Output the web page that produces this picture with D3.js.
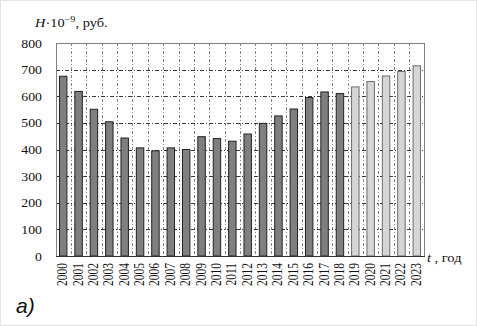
<!DOCTYPE html>
<html lang="ru">
  <head>
    <script src="https://d3js.org/d3.v7.min.js"></script>
    <meta charset="UTF-8" />
    <title>H</title>
    <style>
      body { margin: 0; background: #fff; }
    </style>
  </head>
  <body>
    <svg width="477" height="326"></svg>
    <script>
      var years = ["2000","2001","2002","2003","2004","2005","2006","2007","2008","2009","2010","2011",
                   "2012","2013","2014","2015","2016","2017","2018","2019","2020","2021","2022","2023"];
      var values = [677, 620, 553, 506, 445, 408, 397, 408, 402, 450, 443, 433,
                    460, 500, 528, 554, 597, 618, 612, 637, 657, 678, 695, 716];
      var forecastFrom = "2019";
      var yTicks = [0, 100, 200, 300, 400, 500, 600, 700, 800];

      var serif = "'Liberation Serif', 'DejaVu Serif', serif";
      var svg = d3.select("svg").attr("font-family", serif);
      var pLeft = 56, pRight = 424, pTop = 43, pBottom = 256;
      var sx = 1.2; // picture is a bit stretched horizontally

      svg.append("rect").attr("x", 0.5).attr("y", 0.5).attr("width", 476).attr("height", 325)
        .attr("fill", "#fff").attr("stroke", "#e4e4e4");

      var x = d3.scaleBand().domain(years).range([pLeft - 0.5, pRight + 0.5]).paddingInner(0.45).paddingOuter(0.225);
      var step = (pRight + 0.5 - (pLeft - 0.5)) / years.length;
      var y = d3.scaleLinear().domain([0, 800]).range([pBottom, pTop]);

      // grid
      svg.append("g").selectAll("line").data(years.slice(1)).enter().append("line")
        .attr("x1", function (d, i) { return Math.round(pLeft - 0.5 + step * (i + 1)) + 0.5; })
        .attr("x2", function (d, i) { return Math.round(pLeft - 0.5 + step * (i + 1)) + 0.5; })
        .attr("y1", pTop).attr("y2", pBottom)
        .attr("stroke", "#777").attr("stroke-width", 0.9).attr("stroke-dasharray", "3,2,1,2");
      svg.append("g").selectAll("line").data(yTicks.slice(1, -1)).enter().append("line")
        .attr("x1", pLeft).attr("x2", pRight)
        .attr("y1", function (d) { return Math.round(y(d)) + 0.5; })
        .attr("y2", function (d) { return Math.round(y(d)) + 0.5; })
        .attr("stroke", "#222").attr("stroke-width", 0.9).attr("stroke-dasharray", "4,2,1,2");

      // bars
      svg.append("g").selectAll("rect").data(years).enter().append("rect")
        .attr("x", function (d) { return x(d) + 0.5; })
        .attr("width", x.bandwidth() - 1)
        .attr("y", function (d, i) { return y(values[i]) + 0.5; })
        .attr("height", function (d, i) { return pBottom - y(values[i]) - 0.5; })
        .attr("fill", function (d) { return d >= forecastFrom ? "#d6d6d6" : "#7f7f7f"; })
        .attr("stroke", function (d) { return d >= forecastFrom ? "#6a6a6a" : "#222"; })
        .attr("stroke-width", 1);

      // frame
      svg.append("rect").attr("x", pLeft + 0.5).attr("y", pTop + 0.5)
        .attr("width", pRight - pLeft).attr("height", pBottom - pTop)
        .attr("fill", "none").attr("stroke", "#808080");
      svg.append("line").attr("x1", pLeft).attr("x2", pRight + 1)
        .attr("y1", pBottom + 0.5).attr("y2", pBottom + 0.5).attr("stroke", "#333");

      // y tick labels
      svg.append("g").selectAll("text").data(yTicks).enter().append("text")
        .attr("transform", function (d) { return "translate(42," + (y(d) + 4.5) + ") scale(" + sx + ",1)"; })
        .attr("text-anchor", "end").attr("font-size", "11.5px").attr("fill", "#111")
        .text(function (d) { return d; });

      // x tick labels
      svg.append("g").selectAll("text").data(years).enter().append("text")
        .attr("transform", function (d) {
          return "translate(" + (x(d) + x.bandwidth() / 2 + 4) + ",263) scale(" + sx + ",1) rotate(-90)";
        })
        .attr("text-anchor", "end").attr("font-size", "11.5px").attr("fill", "#111")
        .text(function (d) { return d; });

      // axis titles
      var yt = svg.append("text").attr("transform", "translate(35,27) scale(" + sx + ",1)")
        .attr("font-size", "12px").attr("fill", "#111");
      yt.append("tspan").attr("font-style", "italic").text("H");
      yt.append("tspan").text("·10");
      yt.append("tspan").attr("font-size", "8.5px").attr("dy", -5).text("−9");
      yt.append("tspan").attr("dy", 5).text(", руб.");

      var xt = svg.append("text").attr("transform", "translate(427,261.5) scale(" + sx + ",1)")
        .attr("font-size", "12px").attr("fill", "#111");
      xt.append("tspan").attr("font-style", "italic").text("t");
      xt.append("tspan").text(" , год");

      svg.append("text").attr("x", 16).attr("y", 313)
        .attr("font-family", "'Liberation Sans Narrow', 'Liberation Sans', sans-serif")
        .attr("font-style", "italic").attr("font-size", "21px").attr("fill", "#111").text("a)");
    </script>
  </body>
</html>
